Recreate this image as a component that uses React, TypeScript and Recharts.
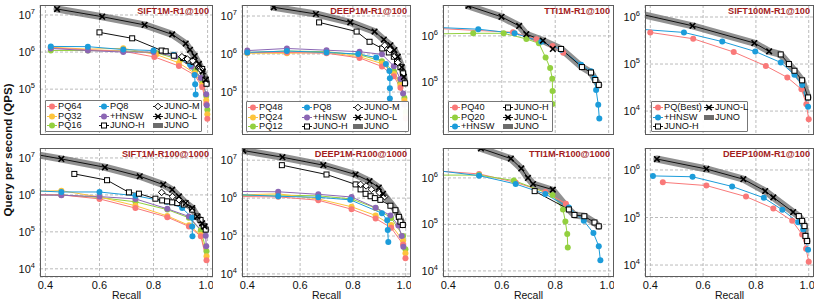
import React from 'react';
import { LineChart, Line, XAxis, YAxis, CartesianGrid } from 'recharts';

type Pt = { r: number; q: number };
type Marker = 'circle' | 'square' | 'diamond' | 'x' | 'band';

const pts = (rows: number[][]): Pt[] => rows.map(([r, q]) => ({ r, q }));

// ---- recall axis ----
const X_DOMAIN = [0.38, 1.02];
const X_TICKS = [0.4, 0.6, 0.8, 1.0];
const Y_TICKS_4 = [1e4, 1e5, 1e6, 1e7];
const Y_TICKS_3 = [1e4, 1e5, 1e6];

// ---- SIFT1M-R1@100 ----
const s1Pq64 = pts([[0.42, 1.3e6], [0.557, 1.15e6], [0.688, 1.05e6], [0.803, 7.4e5], [0.894, 4.2e5], [0.952, 2.4e5], [0.98, 1.15e5], [0.995, 4e4], [0.999, 1.6e4]]);
const s1Pq32 = pts([[0.42, 1.35e6], [0.557, 1.2e6], [0.688, 1.26e6], [0.81, 8.6e5], [0.894, 5.1e5], [0.952, 2.7e5], [0.98, 1.3e5], [0.995, 5e4], [0.999, 2.1e4]]);
const s1Pq16 = pts([[0.42, 1.1e6], [0.557, 1.1e6], [0.688, 1.08e6], [0.81, 9.5e5], [0.9, 6.2e5], [0.955, 3.3e5], [0.982, 1.6e5], [0.995, 6.5e4], [0.999, 2.8e4]]);
const s1Pq8 = pts([[0.42, 1.42e6], [0.557, 1.4e6], [0.688, 1.17e6], [0.8, 1.1e6], [0.875, 8.5e5], [0.935, 4.6e5], [0.952, 2.4e5], [0.954, 1.35e5], [0.956, 7.2e4]]);
const s1Hnsw = pts([[0.42, 1.25e6], [0.557, 1.1e6], [0.688, 1.0e6], [0.8, 1.0e6], [0.88, 7.6e5], [0.94, 4.1e5], [0.975, 2e5], [0.995, 7.3e4], [0.997, 3.7e4]]);
const s1JunoH = pts([[0.6, 3.4e6], [0.721, 2.35e6], [0.83, 1.1e6], [0.845, 1.05e6], [0.875, 8e5], [0.91, 6.9e5], [0.93, 5.9e5], [0.948, 5.4e5], [0.966, 4.1e5], [0.98, 3.5e5], [0.992, 1.8e5], [0.996, 1.4e5]]);
const s1JunoM = pts([[0.905, 7.5e5], [0.925, 6.5e5], [0.945, 5.8e5], [0.96, 4.5e5], [0.975, 3.3e5]]);
const s1JunoL = pts([[0.443, 1.45e7], [0.61, 9e6], [0.767, 5.4e6], [0.869, 3e6], [0.919, 1.7e6], [0.935, 1.15e6], [0.952, 7.8e5], [0.968, 4.8e5], [0.982, 3e5], [0.993, 1.8e5]]);
const s1Band = pts([[0.443, 1.45e7], [0.61, 9e6], [0.767, 5.4e6], [0.869, 3e6], [0.919, 1.7e6], [0.935, 1.15e6], [0.952, 7.8e5], [0.968, 4.8e5], [0.982, 3e5], [0.993, 1.8e5], [0.996, 1.4e5]]);

// ---- DEEP1M-R1@100 ----
const d1Pq48 = pts([[0.4, 1.1e6], [0.55, 1.1e6], [0.7, 1.05e6], [0.825, 7.9e5], [0.91, 4.7e5], [0.955, 2.6e5], [0.98, 1.3e5], [0.995, 5e4], [1.0, 2e4]]);
const d1Pq24 = pts([[0.4, 1.05e6], [0.55, 1.05e6], [0.7, 1.1e6], [0.825, 8.5e5], [0.91, 5.6e5], [0.955, 3e5], [0.98, 1.5e5], [0.995, 6e4], [1.0, 2.3e4]]);
const d1Pq12 = pts([[0.4, 1.1e6], [0.55, 1.2e6], [0.7, 1.15e6], [0.825, 9.5e5], [0.91, 6.5e5], [0.955, 3.5e5], [0.98, 1.7e5], [0.995, 7e4], [1.0, 3e4]]);
const d1Pq8 = pts([[0.4, 1.1e6], [0.55, 1.2e6], [0.7, 1.1e6], [0.82, 1.0e6], [0.888, 8.1e5], [0.925, 5.5e5], [0.938, 3.6e5], [0.94, 2.3e5], [0.94, 1.25e5], [0.94, 6.8e4]]);
const d1Hnsw = pts([[0.4, 1.23e6], [0.55, 1.4e6], [0.7, 1.26e6], [0.825, 1.15e6], [0.91, 9.8e5], [0.955, 4.8e5], [0.98, 2.2e5], [0.99, 9.2e4], [0.995, 4.6e4]]);
const d1JunoH = pts([[0.672, 6.8e6], [0.814, 3.9e6], [0.863, 2.1e6], [0.911, 1.4e6], [0.936, 1.1e6], [0.955, 8.5e5], [0.967, 6.3e5], [0.98, 4.5e5], [0.99, 3.1e5], [0.997, 1.7e5]]);
const d1JunoM = pts([[0.92, 1.7e6], [0.94, 1.3e6], [0.96, 9e5], [0.97, 6e5]]);
const d1JunoL = pts([[0.5, 1.7e7], [0.66, 1.13e7], [0.79, 6.8e6], [0.882, 3.9e6], [0.917, 2.4e6], [0.942, 1.7e6], [0.957, 1.27e6], [0.97, 8.5e5], [0.985, 4.5e5], [0.993, 2.5e5]]);
const d1Band = pts([[0.5, 1.7e7], [0.66, 1.13e7], [0.79, 6.8e6], [0.882, 3.9e6], [0.917, 2.4e6], [0.942, 1.7e6], [0.957, 1.27e6], [0.97, 8.5e5], [0.985, 4.5e5], [0.993, 2.5e5], [0.997, 1.7e5]]);

// ---- TTI1M-R1@100 ----
const t1Pq40 = pts([[0.33, 1.48e6], [0.642, 1.2e6], [0.73, 8.5e5], [0.79, 6e5], [0.83, 4.3e5]]);
const t1Pq20 = pts([[0.33, 1.1e6], [0.493, 1.14e6], [0.607, 1.14e6], [0.692, 8.6e5], [0.739, 6.9e5], [0.764, 3.4e5], [0.781, 2e5], [0.789, 1.17e5], [0.79, 6.3e4], [0.79, 3.3e4]]);
const t1Hnsw = pts([[0.33, 1.55e6], [0.512, 1.4e6], [0.648, 1.14e6], [0.748, 7.5e5], [0.822, 5e5], [0.897, 2.35e5], [0.934, 1.7e5], [0.947, 1.2e5], [0.953, 6.7e4], [0.961, 3.2e4], [0.965, 1.6e4]]);
const t1JunoH = pts([[0.822, 5.2e5], [0.9, 2.1e5], [0.934, 1.6e5], [0.95, 1.1e5], [0.963, 8.6e4]]);
const t1JunoL = pts([[0.475, 4.5e6], [0.599, 2.6e6], [0.665, 1.65e6], [0.692, 1.09e6], [0.754, 7.9e5], [0.791, 5.2e5]]);
const t1Band = pts([[0.475, 4.5e6], [0.599, 2.6e6], [0.665, 1.65e6], [0.692, 1.09e6], [0.754, 7.9e5], [0.822, 5.2e5], [0.9, 2.1e5], [0.934, 1.6e5], [0.95, 1.1e5], [0.963, 8.6e4]]);

// ---- SIFT100M-R1@100 ----
const s100Pq = pts([[0.4, 4.7e5], [0.5625, 3.45e5], [0.716, 1.8e5], [0.8375, 9.1e4], [0.919, 5.2e4], [0.9725, 2.9e4], [0.991, 1.4e4], [1.0, 6.7e3]]);
const s100Hnsw = pts([[0.36, 5.5e5], [0.5275, 4.7e5], [0.6725, 3e5], [0.7975, 1.85e5], [0.894, 1.08e5], [0.946, 5.9e4], [0.975, 3.6e4], [0.9975, 1.24e4]]);
const s100JunoH = pts([[0.894, 1.6e5], [0.925, 1e5], [0.946, 7.2e4], [0.975, 4.5e4], [0.9975, 1.95e4]]);
const s100JunoL = pts([[0.35, 1.2e6], [0.56, 6.5e5], [0.794, 2.8e5], [0.85, 1.86e5]]);
const s100Band = pts([[0.35, 1.2e6], [0.56, 6.5e5], [0.794, 2.8e5], [0.85, 1.86e5], [0.894, 1.6e5], [0.925, 1e5], [0.946, 7.2e4], [0.975, 4.5e4], [0.9975, 1.95e4]]);

// ---- SIFT1M-R100@1000 ----
const s2Pq64 = pts([[0.35, 1.02e6], [0.459, 1.0e6], [0.6, 7.8e5], [0.733, 4.4e5], [0.851, 2.5e5], [0.931, 1.4e5], [0.975, 7.6e4], [0.996, 1.7e4]]);
const s2Pq32 = pts([[0.35, 1.25e6], [0.459, 1.3e6], [0.6, 8.8e5], [0.733, 5.1e5], [0.851, 2.7e5], [0.931, 1.5e5], [0.975, 8.3e4], [0.996, 2.2e4]]);
const s2Pq16 = pts([[0.35, 1.0e6], [0.459, 1.0e6], [0.6, 8.5e5], [0.733, 6.5e5], [0.851, 4e5], [0.931, 2.4e5], [0.975, 1.1e5], [0.996, 3e4]]);
const s2Pq8 = pts([[0.35, 1.3e6], [0.459, 1.2e6], [0.6, 1.2e6], [0.733, 9.5e5], [0.85, 6.5e5], [0.906, 4.4e5], [0.943, 2.4e5], [0.943, 1.4e5], [0.944, 7.6e4]]);
const s2Hnsw = pts([[0.35, 1.0e6], [0.459, 9.8e5], [0.6, 9e5], [0.733, 7.8e5], [0.851, 4.2e5], [0.931, 2.6e5], [0.993, 7.9e4], [0.995, 4.1e4]]);
const s2JunoH = pts([[0.507, 3.7e6], [0.628, 2.5e6], [0.709, 1.17e6], [0.746, 1.08e6], [0.807, 7.9e5], [0.832, 7.1e5], [0.85, 6.7e5], [0.869, 6.3e5], [0.888, 6e5], [0.912, 5.5e5], [0.943, 4e5], [0.962, 2.6e5], [0.974, 2.1e5], [0.986, 1.4e5], [0.993, 1.15e5]]);
const s2JunoM = pts([[0.83, 1.17e6], [0.87, 9e5], [0.894, 7.4e5], [0.92, 6e5]]);
const s2JunoL = pts([[0.35, 1.3e7], [0.459, 9.4e6], [0.62, 5.6e6], [0.749, 3.2e6], [0.836, 1.9e6], [0.869, 1.38e6], [0.894, 9.1e5], [0.919, 6e5], [0.943, 4.4e5], [0.962, 2.6e5], [0.98, 1.7e5], [0.989, 1.4e5]]);
const s2Band = pts([[0.35, 1.3e7], [0.459, 9.4e6], [0.62, 5.6e6], [0.749, 3.2e6], [0.836, 1.9e6], [0.869, 1.38e6], [0.894, 9.1e5], [0.919, 6e5], [0.943, 4.4e5], [0.962, 2.6e5], [0.98, 1.7e5], [0.993, 1.15e5]]);

// ---- DEEP1M-R100@1000 ----
const d2Pq48 = pts([[0.35, 1.1e6], [0.517, 1.08e6], [0.669, 8.8e5], [0.795, 5.1e5], [0.886, 2.9e5], [0.945, 1.65e5], [0.99, 6e4], [0.999, 2.6e4]]);
const d2Pq24 = pts([[0.35, 1.2e6], [0.517, 1.3e6], [0.669, 9.5e5], [0.795, 5.9e5], [0.886, 3.5e5], [0.945, 1.95e5], [0.99, 7.5e4], [0.999, 3.5e4]]);
const d2Pq12 = pts([[0.35, 1.15e6], [0.517, 1.2e6], [0.669, 1.15e6], [0.795, 9.5e5], [0.886, 5.5e5], [0.945, 3e5], [0.99, 1e5], [0.999, 4.5e4]]);
const d2Pq8 = pts([[0.35, 1.25e6], [0.517, 1.12e6], [0.669, 1.05e6], [0.79, 9e5], [0.91, 4e5], [0.93, 2.6e5], [0.932, 1.45e5], [0.934, 7e4]]);
const d2Hnsw = pts([[0.35, 1.5e6], [0.517, 1.47e6], [0.669, 1.26e6], [0.795, 1.07e6], [0.886, 5.6e5], [0.942, 3.5e5], [0.972, 1.9e5], [0.985, 1e5], [0.991, 5.2e4]]);
const d2JunoH = pts([[0.531, 7.4e6], [0.7, 4.2e6], [0.81, 2.3e6], [0.829, 1.7e6], [0.848, 1.3e6], [0.867, 1.12e6], [0.883, 1e6], [0.904, 9e5], [0.942, 6.3e5], [0.961, 4.8e5], [0.974, 3.2e5], [0.98, 2.4e5], [0.989, 1.95e5]]);
const d2JunoM = pts([[0.829, 2.3e6], [0.85, 2.1e6], [0.87, 1.7e6], [0.9, 1.4e6], [0.92, 1.1e6]]);
const d2JunoL = pts([[0.385, 1.8e7], [0.533, 1.2e7], [0.688, 7.4e6], [0.81, 4.2e6], [0.863, 2.8e6], [0.898, 1.9e6], [0.914, 1.3e6]]);
const d2Band = pts([[0.385, 1.8e7], [0.533, 1.2e7], [0.688, 7.4e6], [0.81, 4.2e6], [0.863, 2.8e6], [0.898, 1.9e6], [0.914, 1.3e6], [0.942, 7.5e5], [0.961, 5e5], [0.974, 3.3e5], [0.989, 2e5]]);

// ---- TTI1M-R100@1000 ----
const t2Pq40 = pts([[0.33, 1.45e6], [0.515, 1.22e6], [0.652, 8e5], [0.763, 5e5], [0.84, 2.8e5]]);
const t2Pq20 = pts([[0.33, 1.15e6], [0.515, 1.15e6], [0.645, 8.8e5], [0.79, 4.3e5], [0.829, 2.1e5], [0.838, 1.15e5], [0.845, 6.2e4], [0.847, 3.2e4]]);
const t2Hnsw = pts([[0.33, 1.5e6], [0.515, 1.12e6], [0.652, 7.4e5], [0.763, 4.5e5], [0.851, 2.3e5], [0.907, 1.2e5], [0.943, 6.5e4], [0.963, 3.4e4], [0.969, 1.7e4]]);
const t2JunoH = pts([[0.723, 5.2e5], [0.851, 2.1e5], [0.872, 1.6e5], [0.909, 1.5e5], [0.947, 1.1e5], [0.963, 9.1e4]]);
const t2JunoL = pts([[0.522, 4.3e6], [0.634, 2.6e6], [0.673, 1.6e6], [0.698, 1e6], [0.717, 7.4e5], [0.791, 5.6e5]]);
const t2Band = pts([[0.522, 4.3e6], [0.634, 2.6e6], [0.673, 1.6e6], [0.698, 1e6], [0.717, 7.4e5], [0.791, 5.4e5], [0.851, 2.1e5], [0.872, 1.6e5], [0.909, 1.5e5], [0.947, 1.1e5], [0.963, 9.1e4]]);

// ---- DEEP100M-R1@100 ----
const d100Pq = pts([[0.4475, 5.5e5], [0.6125, 4.7e5], [0.7625, 2.75e5], [0.866, 1.55e5], [0.9375, 8.5e4], [0.975, 4.4e4], [0.99, 2.2e4], [1.0, 1.17e4]]);
const d100Hnsw = pts([[0.41, 7.5e5], [0.56, 7.2e5], [0.71, 4.5e5], [0.83, 2.6e5], [0.9, 1.45e5], [0.96, 7.9e4], [0.979, 5.6e4], [0.9975, 2.1e4]]);
const d100JunoH = pts([[0.9625, 1.07e5], [0.975, 8.5e4], [0.984, 6.6e4], [0.9875, 4.1e4], [0.994, 3.2e4]]);
const d100JunoL = pts([[0.425, 1.7e6], [0.6125, 1.05e6], [0.7525, 6.4e5], [0.835, 3.6e5], [0.866, 2.65e5], [0.941, 1.3e5]]);
const d100Band = pts([[0.425, 1.7e6], [0.6125, 1.05e6], [0.7525, 6.4e5], [0.835, 3.6e5], [0.866, 2.65e5], [0.941, 1.3e5], [0.9625, 1.07e5], [0.975, 8.5e4], [0.984, 6.6e4], [0.9875, 4.1e4], [0.994, 3.2e4]]);

const RED = '#f97979';
const YELLOW = '#fdc43c';
const GREEN = '#93d03f';
const BLUE = '#1c9cda';
const PURPLE = '#8b66b4';
const BLACK = '#111';
const BAND = '#6c6c6c';

type Series = { name: string; data: Pt[]; color: string; marker: Marker };
type PanelCfg = {
  title: string;
  left: number;
  top: number;
  width: number;
  height: number;
  yDomain: number[];
  yTicks: number[];
  bottom: boolean;
  series: Series[];
  legend?: { left: number; top: number; width: number; height: number; cols: string; items: string[] };
};

const ser = (name: string, data: Pt[], color: string, marker: Marker): Series => ({ name, data, color, marker });

const panels: PanelCfg[] = [
  {
    title: 'SIFT1M-R1@100', left: 40, top: 5, width: 173, height: 130, yDomain: [5.8e3, 1.86e7], yTicks: Y_TICKS_4, bottom: false,
    series: [
      ser('JUNO', s1Band, BAND, 'band'), ser('PQ16', s1Pq16, GREEN, 'circle'), ser('PQ32', s1Pq32, YELLOW, 'circle'),
      ser('PQ64', s1Pq64, RED, 'circle'), ser('+HNSW', s1Hnsw, PURPLE, 'circle'), ser('PQ8', s1Pq8, BLUE, 'circle'),
      ser('JUNO-H', s1JunoH, BLACK, 'square'), ser('JUNO-M', s1JunoM, BLACK, 'diamond'), ser('JUNO-L', s1JunoL, BLACK, 'x'),
    ],
    legend: { left: 45, top: 100, width: 157, height: 32, cols: '52px 54px auto', items: ['PQ64', 'PQ32', 'PQ16', 'PQ8', '+HNSW', 'JUNO-H', 'JUNO-M', 'JUNO-L', 'JUNO'] },
  },
  {
    title: 'DEEP1M-R1@100', left: 242, top: 5, width: 169, height: 130, yDomain: [7.4e3, 1.95e7], yTicks: Y_TICKS_4, bottom: false,
    series: [
      ser('JUNO', d1Band, BAND, 'band'), ser('PQ12', d1Pq12, GREEN, 'circle'), ser('PQ24', d1Pq24, YELLOW, 'circle'),
      ser('PQ48', d1Pq48, RED, 'circle'), ser('+HNSW', d1Hnsw, PURPLE, 'circle'), ser('PQ8', d1Pq8, BLUE, 'circle'),
      ser('JUNO-H', d1JunoH, BLACK, 'square'), ser('JUNO-M', d1JunoM, BLACK, 'diamond'), ser('JUNO-L', d1JunoL, BLACK, 'x'),
    ],
    legend: { left: 246, top: 101, width: 163, height: 31, cols: '54px 51px auto', items: ['PQ48', 'PQ24', 'PQ12', 'PQ8', '+HNSW', 'JUNO-H', 'JUNO-M', 'JUNO-L', 'JUNO'] },
  },
  {
    title: 'TTI1M-R1@100', left: 443, top: 5, width: 171, height: 130, yDomain: [7e3, 4.7e6], yTicks: Y_TICKS_3, bottom: false,
    series: [
      ser('JUNO', t1Band, BAND, 'band'), ser('PQ40', t1Pq40, RED, 'circle'), ser('PQ20', t1Pq20, GREEN, 'circle'),
      ser('+HNSW', t1Hnsw, BLUE, 'circle'), ser('JUNO-H', t1JunoH, BLACK, 'square'), ser('JUNO-L', t1JunoL, BLACK, 'x'),
    ],
    legend: { left: 448, top: 101, width: 105, height: 31, cols: '53px auto', items: ['PQ40', 'PQ20', '+HNSW', 'JUNO-H', 'JUNO-L', 'JUNO'] },
  },
  {
    title: 'SIFT100M-R1@100', left: 645, top: 5, width: 169, height: 130, yDomain: [3.1e3, 1.8e6], yTicks: Y_TICKS_3, bottom: false,
    series: [
      ser('JUNO', s100Band, BAND, 'band'), ser('PQ(Best)', s100Pq, RED, 'circle'), ser('+HNSW', s100Hnsw, BLUE, 'circle'),
      ser('JUNO-H', s100JunoH, BLACK, 'square'), ser('JUNO-L', s100JunoL, BLACK, 'x'),
    ],
    legend: { left: 651, top: 101, width: 97, height: 31, cols: '51px auto', items: ['PQ(Best)', '+HNSW', 'JUNO-H', 'JUNO-L', 'JUNO'] },
  },
  {
    title: 'SIFT1M-R100@1000', left: 40, top: 148, width: 173, height: 129, yDomain: [6e3, 1.86e7], yTicks: Y_TICKS_4, bottom: true,
    series: [
      ser('JUNO', s2Band, BAND, 'band'), ser('PQ16', s2Pq16, GREEN, 'circle'), ser('PQ32', s2Pq32, YELLOW, 'circle'),
      ser('PQ64', s2Pq64, RED, 'circle'), ser('+HNSW', s2Hnsw, PURPLE, 'circle'), ser('PQ8', s2Pq8, BLUE, 'circle'),
      ser('JUNO-H', s2JunoH, BLACK, 'square'), ser('JUNO-M', s2JunoM, BLACK, 'diamond'), ser('JUNO-L', s2JunoL, BLACK, 'x'),
    ],
  },
  {
    title: 'DEEP1M-R100@1000', left: 242, top: 148, width: 169, height: 129, yDomain: [8.3e3, 2.1e7], yTicks: Y_TICKS_4, bottom: true,
    series: [
      ser('JUNO', d2Band, BAND, 'band'), ser('PQ12', d2Pq12, GREEN, 'circle'), ser('PQ24', d2Pq24, YELLOW, 'circle'),
      ser('PQ48', d2Pq48, RED, 'circle'), ser('+HNSW', d2Hnsw, PURPLE, 'circle'), ser('PQ8', d2Pq8, BLUE, 'circle'),
      ser('JUNO-H', d2JunoH, BLACK, 'square'), ser('JUNO-M', d2JunoM, BLACK, 'diamond'), ser('JUNO-L', d2JunoL, BLACK, 'x'),
    ],
  },
  {
    title: 'TTI1M-R100@1000', left: 443, top: 148, width: 171, height: 129, yDomain: [7.4e3, 4.4e6], yTicks: Y_TICKS_3, bottom: true,
    series: [
      ser('JUNO', t2Band, BAND, 'band'), ser('PQ40', t2Pq40, RED, 'circle'), ser('PQ20', t2Pq20, GREEN, 'circle'),
      ser('+HNSW', t2Hnsw, BLUE, 'circle'), ser('JUNO-H', t2JunoH, BLACK, 'square'), ser('JUNO-L', t2JunoL, BLACK, 'x'),
    ],
  },
  {
    title: 'DEEP100M-R1@100', left: 645, top: 148, width: 169, height: 129, yDomain: [5.6e3, 2.9e6], yTicks: Y_TICKS_3, bottom: true,
    series: [
      ser('JUNO', d100Band, BAND, 'band'), ser('PQ(Best)', d100Pq, RED, 'circle'), ser('+HNSW', d100Hnsw, BLUE, 'circle'),
      ser('JUNO-H', d100JunoH, BLACK, 'square'), ser('JUNO-L', d100JunoL, BLACK, 'x'),
    ],
  },
];

const FONT = "'Liberation Sans', Arial, Helvetica, sans-serif";

function drawMarker(kind: Marker, color: string, cx: number, cy: number, key: string) {
  if (cx == null || cy == null) return <g key={key} />;
  switch (kind) {
    case 'circle':
      return <circle key={key} cx={cx} cy={cy} r={3} fill={color} />;
    case 'square':
      return <rect key={key} x={cx - 2.5} y={cy - 2.5} width={5} height={5} fill="#fff" stroke="#000" strokeWidth={1} />;
    case 'diamond':
      return <path key={key} d={`M${cx},${cy - 3.3}L${cx + 3.3},${cy}L${cx},${cy + 3.3}L${cx - 3.3},${cy}Z`} fill="#fff" stroke="#000" strokeWidth={1} />;
    case 'x':
      return <path key={key} d={`M${cx - 2.8},${cy - 2.8}L${cx + 2.8},${cy + 2.8}M${cx - 2.8},${cy + 2.8}L${cx + 2.8},${cy - 2.8}`} stroke="#000" strokeWidth={1.6} />;
    default:
      return <g key={key} />;
  }
}

const LogTick = (props: any) => {
  const { x, y, payload } = props;
  const e = Math.round(Math.log10(payload.value));
  return (
    <text x={x} y={y + 4} textAnchor="end" fontSize={11} fill="#111" fontFamily={FONT}>
      10<tspan dy={-5} fontSize={7.5}>{e}</tspan>
    </text>
  );
};

function LegendBox({ cfg, series }: { cfg: NonNullable<PanelCfg['legend']>; series: Series[] }) {
  return (
    <div style={{
      position: 'absolute', left: cfg.left, top: cfg.top, width: cfg.width, height: cfg.height, boxSizing: 'border-box',
      border: '1px solid #777', background: 'rgba(255,255,255,0.95)', borderRadius: 1, padding: '1px 0 0 1px',
      display: 'grid', gridAutoFlow: 'column', gridTemplateRows: 'repeat(3, 9.5px)', gridTemplateColumns: cfg.cols,
      fontSize: 9.2, lineHeight: '9.5px', fontFamily: FONT, color: '#111',
    }}>
      {cfg.items.map((name) => {
        const s = series.find((k) => k.name === name)!;
        return (
          <div key={name} style={{ display: 'flex', alignItems: 'center', gap: 1, whiteSpace: 'nowrap', height: 9.5 }}>
            <svg width={10} height={9} style={{ flex: 'none' }}>
              {s.marker === 'band' ? (
                <rect x={0} y={2} width={10} height={5} fill={BAND} />
              ) : (
                <>
                  <line x1={0} y1={4.5} x2={10} y2={4.5} stroke={s.color} strokeWidth={1} />
                  {drawMarker(s.marker, s.color, 5, 4.5, 'm')}
                </>
              )}
            </svg>
            <span>{name}</span>
          </div>
        );
      })}
    </div>
  );
}

function Panel({ cfg }: { cfg: PanelCfg }) {
  const YW = 40;
  const XH = cfg.bottom ? 25 : 0;
  return (
    <>
      <div style={{ position: 'absolute', left: cfg.left - YW, top: cfg.top }}>
        <LineChart width={YW + cfg.width} height={cfg.height + XH} margin={{ top: 0, right: 0, bottom: 0, left: 0 }}>
          <CartesianGrid stroke="#a9a9a9" strokeDasharray="3 2" strokeWidth={0.8} />
          <XAxis
            type="number"
            dataKey="r"
            domain={X_DOMAIN}
            ticks={X_TICKS}
            allowDataOverflow
            hide={!cfg.bottom}
            height={XH}
            axisLine={false}
            tickLine={false}
            tickSize={2}
            tickMargin={2}
            tick={{ fontSize: 11, fill: '#111' }}
            tickFormatter={(v: number) => v.toFixed(1)}
            label={{ value: 'Recall', position: 'insideBottom', offset: 3, fontSize: 10.5, fill: '#111' }}
          />
          <YAxis
            type="number"
            dataKey="q"
            scale="log"
            domain={cfg.yDomain}
            ticks={cfg.yTicks}
            allowDataOverflow
            width={YW}
            axisLine={false}
            tickLine={false}
            tickSize={3}
            tickMargin={2}
            tick={(p: any) => <LogTick {...p} />}
          />
          {cfg.series.map((s) =>
            s.marker === 'band' ? (
              <Line
                key={s.name}
                data={s.data}
                dataKey="q"
                type="linear"
                stroke={BAND}
                strokeOpacity={0.75}
                strokeWidth={7}
                strokeLinecap="round"
                strokeLinejoin="round"
                dot={false}
                activeDot={false}
                isAnimationActive={false}
              />
            ) : (
              <Line
                key={s.name}
                data={s.data}
                dataKey="q"
                type="linear"
                stroke={s.color}
                strokeWidth={1}
                dot={(p: any) => drawMarker(s.marker, s.color, p.cx, p.cy, `${s.name}-${p.index}`)}
                activeDot={false}
                isAnimationActive={false}
              />
            )
          )}
        </LineChart>
      </div>
      <div style={{
        position: 'absolute', left: cfg.left, top: cfg.top, width: cfg.width, height: cfg.height,
        boxSizing: 'border-box', border: '1.4px solid #5c5c5c', pointerEvents: 'none',
      }} />
      <div style={{
        position: 'absolute', left: cfg.left, top: cfg.top + 1, width: cfg.width - 4, textAlign: 'right',
        fontSize: 9.2, fontWeight: 'bold', color: '#a31d1d', fontFamily: FONT, lineHeight: '10px',
      }}>
        {cfg.title}
      </div>
      {cfg.legend && <LegendBox cfg={cfg.legend} series={cfg.series} />}
    </>
  );
}

export default function App() {
  return (
    <div style={{ position: 'absolute', left: 0, top: 0, width: 822, height: 303, background: '#fff', fontFamily: FONT, overflow: 'hidden' }}>
      {panels.map((p) => (
        <Panel key={p.title} cfg={p} />
      ))}
      <div style={{
        position: 'absolute', left: 8, top: 150, transform: 'translate(-50%, -50%) rotate(-90deg)',
        whiteSpace: 'nowrap', fontSize: 11.5, fontWeight: 'bold', color: '#111',
      }}>
        Query per second (QPS)
      </div>
    </div>
  );
}
